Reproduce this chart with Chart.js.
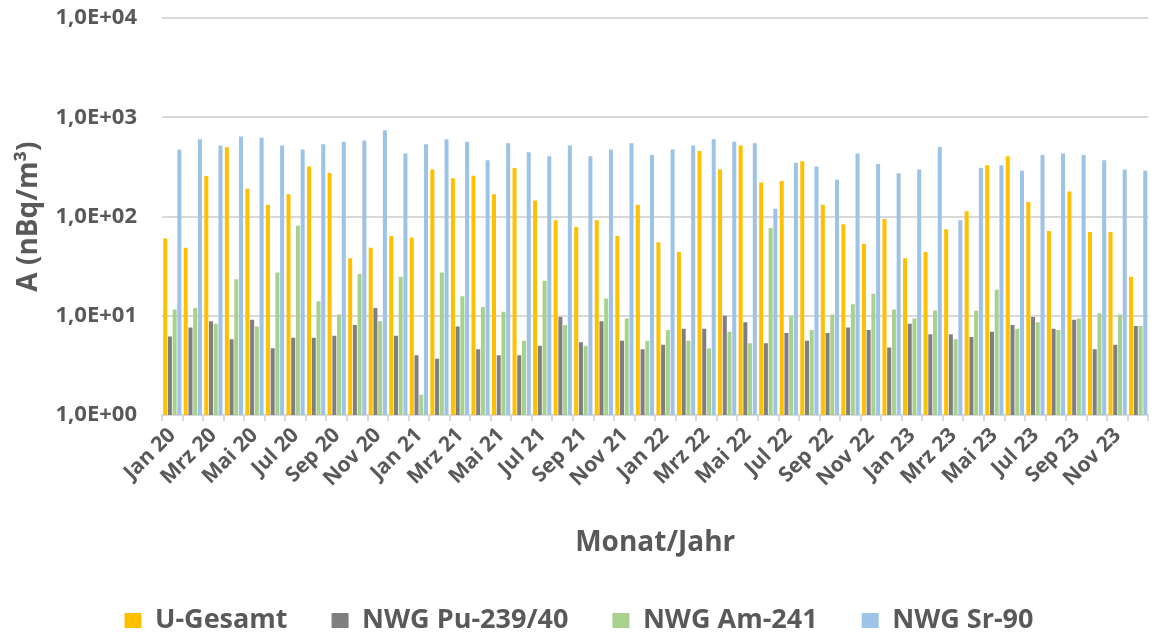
<!DOCTYPE html>
<html>
<head>
<meta charset="utf-8">
<script src="https://cdn.jsdelivr.net/npm/chart.js@4"></script>
<style>
  html, body { margin: 0; padding: 0; background: #fff; }
  #wrap { width: 1158px; height: 635px; position: relative; }
</style>
</head>
<body>
<div id="wrap"><canvas id="chart"></canvas></div>
<script>
// Monate Jan 20 - Dez 23
const months = ['Jan', 'Feb', 'Mrz', 'Apr', 'Mai', 'Jun', 'Jul', 'Aug', 'Sep', 'Okt', 'Nov', 'Dez'];
const years = ['20', '21', '22', '23'];
const labels = [];
years.forEach(y => months.forEach(m => labels.push(m + ' ' + y)));

// Werte in nBq/m³
const uGesamt = [60, 48.5, 256, 500, 191, 132, 168, 319, 275, 38, 48.5, 63.7,
  61.7, 299, 243, 258, 168, 309, 145, 91.8, 78.5, 91.8, 63.7, 132,
  55, 44, 459, 299, 520, 221, 228, 361, 132, 83.6, 52.8, 94.7,
  38, 44, 74.4, 113, 329, 405, 140, 71.6, 179, 70, 70, 24.8];
const nwgPu = [6.2, 7.6, 8.8, 5.8, 9.1, 4.7, 6.0, 6.0, 6.3, 8.1, 12, 6.3,
  4.0, 3.7, 7.8, 4.6, 4.0, 4.0, 5.0, 9.7, 5.4, 8.8, 5.6, 4.6,
  5.1, 7.4, 7.4, 10, 8.6, 5.3, 6.7, 5.6, 6.7, 7.6, 7.2, 4.8,
  8.3, 6.5, 6.5, 6.1, 6.9, 8.1, 9.7, 7.4, 9.1, 4.6, 5.1, 7.9];
const nwgAm = [11.6, 12, 8.3, 23.4, 7.8, 27.3, 81, 14, 10.3, 26.4, 8.8, 24.8,
  1.6, 27.3, 15.7, 12.3, 11, 5.6, 22.6, 8.1, 5.0, 14.9, 9.4, 5.6,
  7.2, 5.6, 4.7, 6.9, 5.3, 76.8, 10, 7.2, 10.3, 13.1, 16.7, 11.6,
  9.4, 11.3, 5.8, 11.3, 18.3, 7.4, 8.6, 7.2, 9.4, 10.6, 10.3, 7.9];
const nwgSr = [474, 603, 520, 642, 622, 520, 474, 537, 567, 585, 744, 432,
  537, 603, 567, 370, 550, 445, 405, 520, 405, 474, 550, 419,
  474, 520, 603, 567, 550, 120, 350, 319, 235, 432, 339, 273,
  299, 504, 91.8, 309, 329, 290, 419, 432, 419, 370, 299, 290];

const yTicks = [1, 10, 100, 1000, 10000];

const textColor = '#595959';
const gridColor = '#d9d9d9';
const fontFam = '"Open Sans", "DejaVu Sans", sans-serif';

const ctx = document.getElementById('chart').getContext('2d');

const myChart = new Chart(ctx, {
  type: 'bar',
  data: {
    labels: labels,
    datasets: [
      { label: 'U-Gesamt', data: uGesamt, backgroundColor: '#FFC000' },
      { label: 'NWG Pu-239/40', data: nwgPu, backgroundColor: '#7F7F7F' },
      { label: 'NWG Am-241', data: nwgAm, backgroundColor: '#A9D18E' },
      { label: 'NWG Sr-90', data: nwgSr, backgroundColor: '#9DC3E6' }
    ]
  },
  options: {
    responsive: true,
    maintainAspectRatio: false,
    animation: false,
    datasets: {
      bar: { categoryPercentage: 0.92, barPercentage: 0.85 }
    },
    layout: { padding: { top: 5, right: 0, left: 0, bottom: -9 } },
    plugins: {
      tooltip: { enabled: false },
      legend: {
        position: 'bottom',
        labels: {
          boxWidth: 17,
          boxHeight: 15,
          padding: 44,
          color: textColor,
          font: { family: fontFam, size: 27, weight: 'bold' }
        }
      }
    },
    scales: {
      x: {
        grid: {
          offset: true,
          drawOnChartArea: false,
          drawTicks: true,
          tickLength: 6,
          color: gridColor,
          lineWidth: 2
        },
        border: { color: gridColor, width: 2 },
        ticks: {
          autoSkip: false,
          maxRotation: 45,
          minRotation: 45,
          padding: 2,
          color: textColor,
          font: { family: fontFam, size: 21, weight: 'bold' },
          callback: function (val, i) { return i % 2 === 0 ? labels[i] : ''; }
        },
        title: {
          display: true,
          text: 'Monat/Jahr',
          color: textColor,
          font: { family: fontFam, size: 28, weight: 'bold' },
          padding: { top: 0, bottom: 3 }
        },
        afterFit: function (scale) { scale.height = 148; }
      },
      y: {
        type: 'logarithmic',
        min: 1,
        max: 10000,
        afterBuildTicks: function (scale) {
          scale.ticks = yTicks.map(v => ({ value: v }));
        },
        grid: {
          color: gridColor,
          lineWidth: 2,
          drawTicks: true,
          tickLength: 20,
          tickColor: 'rgba(0,0,0,0)'
        },
        border: { display: false },
        ticks: {
          padding: 5,
          color: textColor,
          font: { family: fontFam, size: 22, weight: 'bold' },
          callback: function (v) {
            const e = Math.round(Math.log10(v));
            return '1,0E+' + String(e).padStart(2, '0');
          }
        },
        title: {
          display: true,
          text: 'A (nBq/m³)',
          color: textColor,
          font: { family: fontFam, size: 28, weight: 'bold' },
          padding: { top: 12, bottom: 0 }
        },
        afterFit: function (scale) { scale.width = 162; }
      }
    }
  }
});
</script>
</body>
</html>
